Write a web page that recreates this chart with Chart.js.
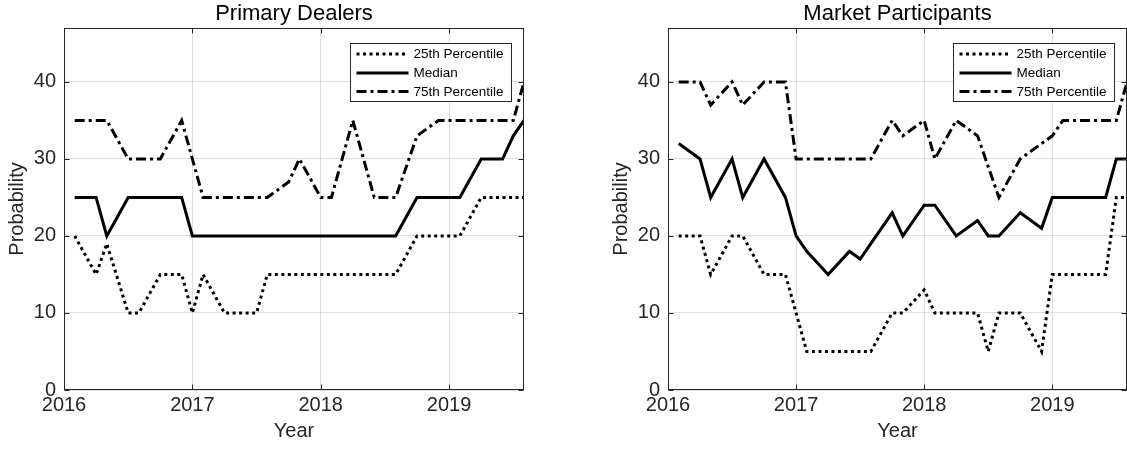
<!DOCTYPE html>
<html>
<head>
<meta charset="utf-8">
<script src="https://cdn.jsdelivr.net/npm/chart.js@4"></script>
<style>
html,body{margin:0;padding:0;background:#fff;width:1127px;height:453px;overflow:hidden;}
.panel{position:absolute;top:0;height:453px;}
#p1{left:0;width:540px;}
#p2{left:604px;width:523px;}
canvas{display:block;}
</style>
</head>
<body>
<div class="panel" id="p1"><canvas id="c1" width="540" height="453"></canvas></div>
<div class="panel" id="p2"><canvas id="c2" width="523" height="453"></canvas></div>
<script>
// ---- data ----
const meetingMonths = [
  '2016-01','2016-03','2016-04','2016-06','2016-07','2016-09','2016-11','2016-12',
  '2017-01','2017-03','2017-05','2017-06','2017-07','2017-09','2017-10','2017-12',
  '2018-01','2018-03','2018-05','2018-06','2018-07','2018-09','2018-11','2018-12',
  '2019-01','2019-03','2019-05','2019-06','2019-07'
];
const xTickValues = [2016, 2017, 2018, 2019];
const yTickValues = [0, 10, 20, 30, 40];
const seriesLabels = ['25th Percentile', 'Median', '75th Percentile'];
const panelTitles = ['Primary Dealers', 'Market Participants'];

const dealersP25 = [20,15,19,10,10,15,15,10, 15,10,10,10,15,15,15,15, 15,15,15,15,15,20,20,20, 20,25,25,25,25];
const dealersMedian = [25,25,20,25,25,25,25,20, 20,20,20,20,20,20,20,20, 20,20,20,20,20,25,25,25, 25,30,30,33,35];
const dealersP75 = [35,35,35,30,30,30,35,30, 25,25,25,25,25,27,30,25, 25,35,25,25,25,33,35,35, 35,35,35,35,40];

const marketP25 = [20,20,15,20,20,15,15,10, 5,5,5,5,5,10,10,13, 10,10,10,5,10,10,5,15, 15,15,15,25,25];
const marketMedian = [32,30,25,30,25,30,25,20, 18,15,18,17,19,23,20,24, 24,20,22,20,20,23,21,25, 25,25,25,30,30];
const marketP75 = [40,40,37,40,37,40,40,30, 30,30,30,30,30,35,33,35, 30,35,33,29,25,30,32,33, 35,35,35,35,40];

// ---- styling ----
const FONT = "'Liberation Sans', Arial, Helvetica, sans-serif";
const axisColor = '#262626';
const gridColor = 'rgba(38,38,38,0.15)';
const lineStyles = [
  { borderDash: [3, 3.5], borderWidth: 3 },
  { borderDash: [], borderWidth: 3 },
  { borderDash: [10, 4, 3, 4], borderWidth: 3 }
];

function monthToYear(s) {
  const [yy, mm] = s.split('-').map(Number);
  return yy + mm / 12;
}
const xValues = meetingMonths.map(monthToYear);
const xMax = xValues[xValues.length - 1];

function makeDatasets(series) {
  return series.map((vals, k) => ({
    label: seriesLabels[k],
    data: vals.map((v, i) => ({ x: xValues[i], y: v })),
    borderColor: '#000',
    backgroundColor: '#000',
    borderWidth: lineStyles[k].borderWidth,
    borderDash: lineStyles[k].borderDash,
    borderCapStyle: 'butt',
    borderJoinStyle: 'miter',
    pointRadius: 0,
    tension: 0,
    fill: false
  }));
}

const framePlugin = {
  id: 'frameTicksLegend',
  afterDatasetsDraw(chart) {
    const { ctx, chartArea: a, scales: { x, y } } = chart;
    const L = Math.round(a.left) + 0.5, R = Math.round(a.right) - 0.5;
    const T = Math.round(a.top) + 0.5, B = Math.round(a.bottom) - 0.5;
    const tl = 5;
    ctx.save();
    ctx.strokeStyle = axisColor;
    ctx.lineWidth = 1;
    ctx.setLineDash([]);
    ctx.beginPath();
    xTickValues.forEach(v => {
      const px = Math.round(x.getPixelForValue(v)) + 0.5;
      ctx.moveTo(px, B); ctx.lineTo(px, B - tl);
      ctx.moveTo(px, T); ctx.lineTo(px, T + tl);
    });
    yTickValues.forEach(v => {
      const py = Math.round(y.getPixelForValue(v)) + 0.5;
      ctx.moveTo(L, py); ctx.lineTo(L + tl, py);
      ctx.moveTo(R, py); ctx.lineTo(R - tl, py);
    });
    ctx.stroke();
    ctx.strokeRect(L, T, R - L, B - T);

    // legend box
    const bw = 161, bh = 58;
    const bx = Math.round(a.right - 13 - bw) + 0.5;
    const by = Math.round(a.top + 15) + 0.5;
    ctx.fillStyle = '#fff';
    ctx.fillRect(bx, by, bw, bh);
    ctx.strokeStyle = axisColor;
    ctx.lineWidth = 1;
    ctx.strokeRect(bx, by, bw, bh);
    const rows = [10.5, 29.5, 48];
    ctx.font = '13.5px ' + FONT;
    ctx.textBaseline = 'middle';
    ctx.textAlign = 'left';
    chart.data.datasets.forEach((ds, i) => {
      const ry = by + rows[i];
      ctx.strokeStyle = '#000';
      ctx.lineWidth = ds.borderWidth;
      ctx.lineCap = 'butt';
      ctx.setLineDash(ds.borderDash);
      ctx.beginPath();
      ctx.moveTo(bx + 6, ry);
      ctx.lineTo(bx + 58, ry);
      ctx.stroke();
      ctx.setLineDash([]);
      ctx.fillStyle = '#000';
      ctx.fillText(ds.label, bx + 63, ry + 0.5);
    });
    ctx.restore();
  }
};

function makeChart(canvasId, title, series, padRight) {
  return new Chart(document.getElementById(canvasId), {
    type: 'line',
    data: { datasets: makeDatasets(series) },
    options: {
      responsive: false,
      animation: false,
      devicePixelRatio: 1,
      layout: { padding: { left: 0, right: padRight, top: 0, bottom: 0 } },
      plugins: {
        legend: { display: false },
        tooltip: { enabled: false },
        title: {
          display: true,
          text: title,
          fullSize: false,
          color: '#000',
          font: { family: FONT, size: 22, weight: 'normal' },
          padding: { top: 0.8, bottom: 0.8 }
        }
      },
      scales: {
        x: {
          type: 'linear',
          min: 2016,
          max: xMax,
          afterBuildTicks: s => { s.ticks = xTickValues.map(v => ({ value: v })); },
          afterFit: s => { s.height = 63; },
          ticks: { color: axisColor, padding: 3, font: { family: FONT, size: 20 }, callback: v => String(v), maxRotation: 0 },
          grid: { color: gridColor, lineWidth: 1, drawTicks: false },
          border: { display: false },
          title: { display: true, text: 'Year', color: axisColor, font: { family: FONT, size: 20 }, padding: { top: 0, bottom: 10 } }
        },
        y: {
          type: 'linear',
          min: 0,
          max: 47,
          afterBuildTicks: s => { s.ticks = yTickValues.map(v => ({ value: v })); },
          afterFit: s => { s.width = 64; },
          ticks: { color: axisColor, padding: 8, font: { family: FONT, size: 20 } },
          grid: { color: gridColor, lineWidth: 1, drawTicks: false },
          border: { display: false },
          title: { display: true, text: 'Probability', color: axisColor, font: { family: FONT, size: 20 }, padding: { top: 5, bottom: 0 } }
        }
      }
    },
    plugins: [framePlugin]
  });
}

makeChart('c1', panelTitles[0], [dealersP25, dealersMedian, dealersP75], 16);
makeChart('c2', panelTitles[1], [marketP25, marketMedian, marketP75], 0);
</script>
</body>
</html>
